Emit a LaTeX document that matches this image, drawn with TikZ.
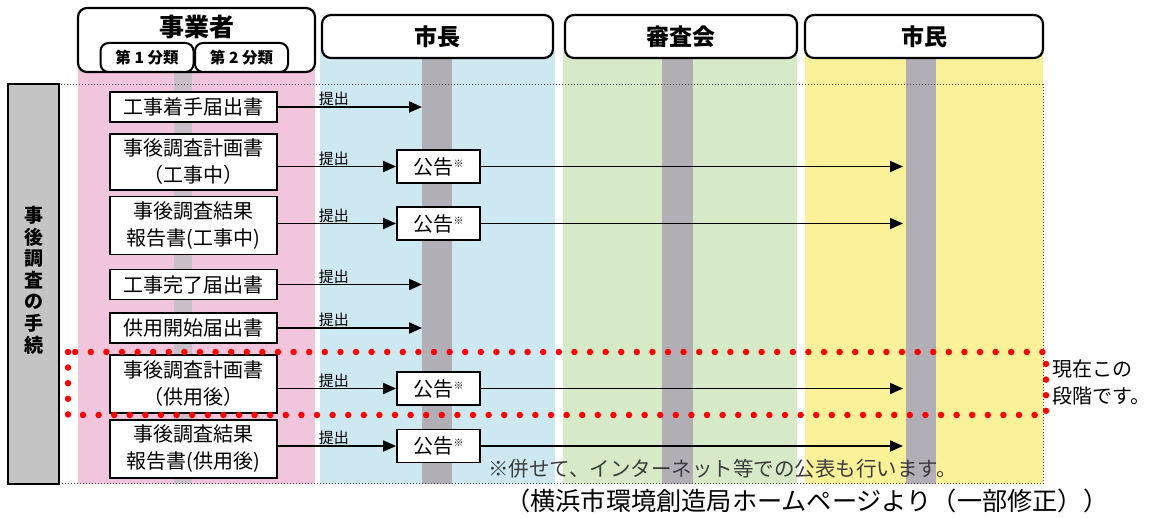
\documentclass[tikz,border=0pt]{standalone}
\usepackage{fontspec}
\setmainfont{Noto Sans CJK JP}
\usetikzlibrary{arrows.meta}
\definecolor{pinkc}{RGB}{241,198,221}
\definecolor{bluec}{RGB}{206,232,241}
\definecolor{greenc}{RGB}{214,234,200}
\definecolor{yellowc}{RGB}{250,241,152}
\definecolor{barc}{RGB}{178,174,182}
\definecolor{barlc}{RGB}{200,192,198}
\definecolor{leftgray}{RGB}{196,196,196}
\definecolor{notec}{RGB}{60,60,60}
\begin{document}
\begin{tikzpicture}[x=1pt,y=-1pt,
  docbox/.style={draw, line width=1.8pt, fill=white, minimum width=167pt, inner sep=0pt, align=center, font=\fontsize{20}{27}\selectfont},
  kbox/.style={draw, line width=1.8pt, fill=white, minimum width=83pt, minimum height=33pt, inner sep=0pt, font=\fontsize{20}{24}\selectfont},
  hdr/.style={draw, line width=2.2pt, rounded corners=9pt, fill=white, inner sep=0pt, font=\bfseries\fontsize{23}{26}\selectfont},
  subhdr/.style={draw, line width=2pt, rounded corners=8pt, fill=white, inner sep=0pt, minimum width=93pt, minimum height=29pt, font=\bfseries\fontsize{15.5}{16}\selectfont},
  arr/.style={line width=1.8pt, -{Triangle[length=13pt,width=11pt]}},
  lbl/.style={font=\fontsize{15}{16}\selectfont, inner sep=1pt, anchor=south west, xshift=39pt, yshift=-1pt}
]
\useasboundingbox (0,0) rectangle (1160,518);
% column backgrounds
\fill[pinkc] (78,60) rectangle (315,484);
\fill[bluec] (320,50) rectangle (555,484);
\fill[greenc] (563,50) rectangle (797,484);
\fill[yellowc] (805,50) rectangle (1043,484);
% vertical bars
\fill[barlc] (174,72) rectangle (192,484);
\fill[barc] (422,58) rectangle (452,484);
\fill[barc] (662,58) rectangle (693,484);
\fill[barc] (906,58) rectangle (936,484);
% dotted frame
\draw[dotted, line width=1pt, black!70] (59,85) rectangle (1043,484);
% left procedure bar
\node[draw, fill=leftgray, line width=1.5pt, minimum width=51pt, minimum height=400pt, inner sep=0pt] (proc) at (33.5,284) {};
\node[align=center, font=\bfseries\fontsize{19}{21.6}\selectfont] (proct) at (33.5,280) {事\\後\\調\\査\\の\\手\\続};
% headers
\node[hdr, minimum width=237pt, minimum height=64pt] (biz) at (196.5,40) {};
\node[font=\bfseries\fontsize{25}{28}\selectfont] (bizt) at (196.5,27) {事業者};
\node[subhdr] (s1) at (147,57.5) {第 1 分類};
\node[subhdr] (s2) at (241.5,57.5) {第 2 分類};
\node[hdr, minimum width=231pt, minimum height=43pt] (mayorh) at (437.5,36.5) {市長};
\node[hdr, minimum width=232pt, minimum height=43pt] (councilh) at (681,36.5) {審査会};
\node[hdr, minimum width=238pt, minimum height=43pt] (citizenh) at (924,36.5) {市民};
% target coordinates
\coordinate (mayor) at (422,0);
\coordinate (citizen) at (903,0);
% document boxes
\node[docbox, minimum height=30pt] (r1) at (193.5,107) {工事着手届出書};
\node[docbox, minimum height=56pt] (r2) at (193.5,162) {事後調査計画書\\（工事中）};
\node[docbox, minimum height=58pt] (r3) at (193.5,225.5) {事後調査結果\\報告書(工事中)};
\node[docbox, minimum height=30pt] (r4) at (193.5,284.5) {工事完了届出書};
\node[docbox, minimum height=30pt] (r5) at (193.5,328) {供用開始届出書};
\node[docbox, minimum height=58pt] (r6) at (193.5,384) {事後調査計画書\\（供用後）};
\node[docbox, minimum height=58pt] (r7) at (193.5,449) {事後調査結果\\報告書(供用後)};
% announcement boxes
\node[kbox] (k2) at (438.5,166.5) {公告\raisebox{7pt}{\fontsize{10}{10}\selectfont ※}};
\node[kbox] (k3) at (438.5,223.5) {公告\raisebox{7pt}{\fontsize{10}{10}\selectfont ※}};
\node[kbox] (k6) at (438.5,388.5) {公告\raisebox{7pt}{\fontsize{10}{10}\selectfont ※}};
\node[kbox] (k7) at (438.5,446) {公告\raisebox{7pt}{\fontsize{10}{10}\selectfont ※}};
% arrows
\draw[arr] (r1.east) -- node[lbl, at start] {提出} (r1.east -| mayor);
\draw[arr] (k2.west -| r2.east) -- node[lbl, at start] {提出} (k2.west);
\draw[arr] (k2.east) -- (k2.east -| citizen);
\draw[arr] (k3.west -| r3.east) -- node[lbl, at start] {提出} (k3.west);
\draw[arr] (k3.east) -- (k3.east -| citizen);
\draw[arr] (r4.east) -- node[lbl, at start] {提出} (r4.east -| mayor);
\draw[arr] (r5.east) -- node[lbl, at start] {提出} (r5.east -| mayor);
\draw[arr] (k6.west -| r6.east) -- node[lbl, at start] {提出} (k6.west);
\draw[arr] (k6.east) -- (k6.east -| citizen);
\draw[arr] (k7.west -| r7.east) -- node[lbl, at start] {提出} (k7.west);
\draw[arr] (k7.east) -- (k7.east -| citizen);
% highlight
\draw[red, line width=6.5pt, line cap=round, dash pattern=on 0pt off 15.6pt] (68,352) rectangle (1046,415);
\node[anchor=west, align=left, inner sep=0pt, font=\fontsize{20}{27}\selectfont] (now) at (1052,382) {現在この\\段階です。};
% notes
\node[anchor=west, inner sep=0pt, text=notec, font=\fontsize{20.5}{22}\selectfont] (note) at (488,469) {※併せて、インターネット等での公表も行います。};
\node[anchor=west, inner sep=0pt, font=\fontsize{25.2}{27}\selectfont] (src) at (505,501) {（横浜市環境創造局ホームページより（一部修正））};
\end{tikzpicture}
\end{document}
